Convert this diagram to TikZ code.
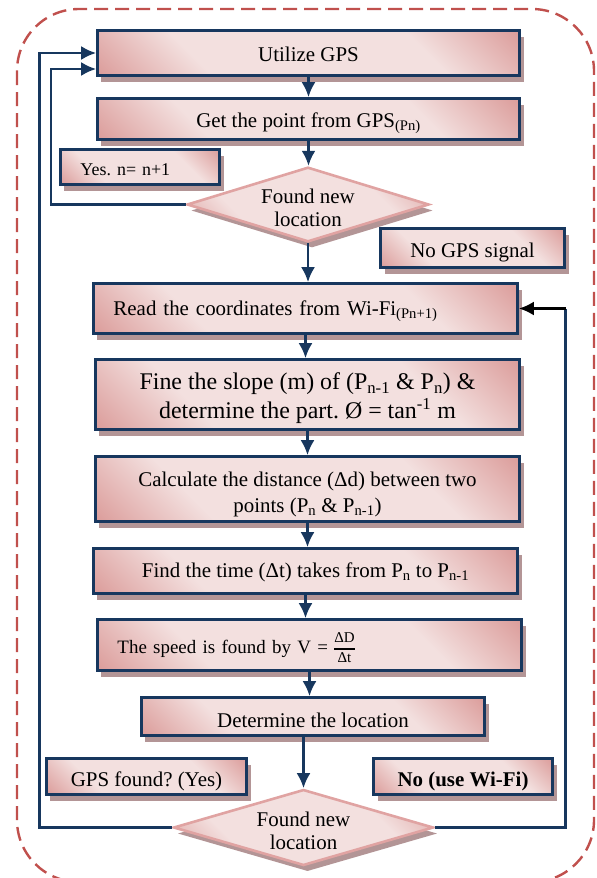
\documentclass[tikz,border=0pt]{standalone}
\usepackage{fontspec}
\setmainfont{Liberation Serif}
\usetikzlibrary{shapes.geometric,shadows,arrows.meta}

\definecolor{navy}{HTML}{17375E}
\definecolor{pinkdark}{HTML}{D99694}
\definecolor{pinklight}{HTML}{F3E0DF}
\definecolor{pinkedge}{HTML}{E0A3A2}
\definecolor{shadowpink}{HTML}{B39596}
\definecolor{dashred}{HTML}{C0504D}

\pgfdeclareverticalshading{pinkband}{100bp}{color(0bp)=(pinkdark); color(13bp)=(pinkdark);
  color(32bp)=(pinklight); color(68bp)=(pinklight); color(87bp)=(pinkdark); color(100bp)=(pinkdark)}

% move text down inside its shape without moving the shape
\newcommand{\lowered}[2]{\raisebox{-#1}[\height][\depth]{#2}}
\newcommand{\twolines}[2]{\begin{tabular}{@{}c@{}}#1\\#2\end{tabular}}

\begin{document}
\frenchspacing
\begin{tikzpicture}[x=1bp,y=-1bp]

\tikzset{
box/.style={draw=navy, line width=2.6bp, shading=pinkband, shading angle=135,
  drop shadow={shadow xshift=4bp, shadow yshift=-6bp, fill=shadowpink, opacity=1},
  inner sep=0pt, align=center, font={\fontsize{21}{26}\selectfont}},
decision/.style={diamond, aspect=3.24, draw=pinkedge, line width=2.6bp,
  shading=pinkband, shading angle=135,
  drop shadow={shadow xshift=4bp, shadow yshift=-6bp, fill=shadowpink, opacity=1},
  inner sep=0pt, align=center, font={\fontsize{21}{23}\selectfont}},
dims/.style 2 args={minimum width=#1, minimum height=#2},
padded/.style={align=left, inner xsep=20bp, text width=#1},
line/.style={color=navy, line width=2.7bp, -{Latex[length=15bp,width=14bp]}}
}

\useasboundingbox (0,0) rectangle (597,878);

% frame
\draw[color=dashred, line width=2.4bp, dash pattern=on 14bp off 7bp,
  rounded corners=62bp] (17,9) rectangle (594,882);

% steps
\node[box, dims={422bp}{45bp}] (util) at (308.5,53) {\lowered{1bp}{Utilize GPS}};
\node[box, dims={422bp}{41bp}] (getpt) at (308.5,119)
  {\lowered{4bp}{Get the point from GPS\textsubscript{(Pn)}}};
\node[box, dims={159bp}{35bp}, padded=119bp, font={\fontsize{18}{22}\selectfont}]
  (yes) at (140,167) {\lowered{3bp}{Yes. n= n+1}};
\node[decision, dims={240bp}{72bp}] (dia1) at (308,204.5)
  {\lowered{6bp}{\twolines{Found new}{location}}};
\node[box, dims={184bp}{39bp}] (nogps) at (472.5,248) {\lowered{4bp}{No GPS signal}};
\node[box, dims={424bp}{50bp}, padded=384bp] (read) at (305.5,308.5)
  {\lowered{3bp}{Read the coordinates from Wi-Fi\textsubscript{(Pn+1)}}};
\node[box, dims={424bp}{70bp}, font={\fontsize{24}{28}\selectfont}] (slope) at (307.5,394.5)
  {\lowered{4bp}{\twolines{Fine the slope (m) of (P\textsubscript{n-1} \& P\textsubscript{n}) \&}
   {determine the part. Ø = tan\textsuperscript{-1} m}}};
\node[box, dims={424bp}{65bp}] (calc) at (307.5,489)
  {\lowered{5bp}{\twolines{Calculate the distance (Δd) between two}
   {points (P\textsubscript{n} \& P\textsubscript{n-1})}}};
\node[box, dims={424bp}{45bp}] (findt) at (305.5,571)
  {\lowered{1bp}{Find the time (Δt) takes from P\textsubscript{n} to P\textsubscript{n-1}}};
\node[box, dims={424bp}{51bp}, padded=384bp, font={\fontsize{19}{23}\selectfont}]
  (speed) at (309.5,645)
  {\lowered{4bp}{The speed is found by V = $\vcenter{\hbox{\fontsize{15}{16}\selectfont
   \setlength{\arrayrulewidth}{1.8bp}\renewcommand{\arraystretch}{1.15}%
   \begin{tabular}{@{}c@{}}ΔD\\\hline Δt\end{tabular}}}$}};
\node[box, dims={343bp}{38bp}] (determ) at (313,716.5) {\lowered{4bp}{Determine the location}};
\node[box, dims={200bp}{36bp}] (gpsf) at (146.5,776.5) {\lowered{5bp}{GPS found? (Yes)}};
\node[box, dims={179bp}{36bp}, font={\fontsize{21}{26}\selectfont\bfseries}]
  (nowifi) at (463,776.5) {\lowered{5bp}{No (use Wi-Fi)}};
\node[decision, dims={260bp}{76bp}] (dia2) at (303.5,827.5)
  {\lowered{6bp}{\twolines{Found new}{location}}};

% loop corners
\coordinate (loopin) at (51,0);
\coordinate (loopout) at (39.5,0);
\coordinate (loopright) at (565.5,0);

%edges
\path[line]
(util.south)   edge (util.south |- getpt.north)
(getpt.south)  edge (getpt.south |- dia1.north)
(dia1.south)   edge (dia1.south |- read.north)
(read.south)   edge (read.south |- slope.north)
(slope.south)  edge (slope.south |- calc.north)
(calc.south)   edge (calc.south |- findt.north)
(findt.south)  edge (findt.south |- speed.north)
(speed.south)  edge (speed.south |- determ.north)
(dia2.north |- determ.south) edge (dia2.north)
;

\draw[line] (dia1.west) -- (dia1.west -| loopin) |- ([yshift=-16bp]util.west);
\draw[line] (dia2.west) -- (dia2.west -| loopout) |- (util.west);
\draw[color=navy, line width=2.7bp] (dia2.east) -- (dia2.east -| loopright) -- (loopright |- read.east);
\draw[line, color=black] (loopright |- read.east) -- (read.east);

\end{tikzpicture}
\end{document}
